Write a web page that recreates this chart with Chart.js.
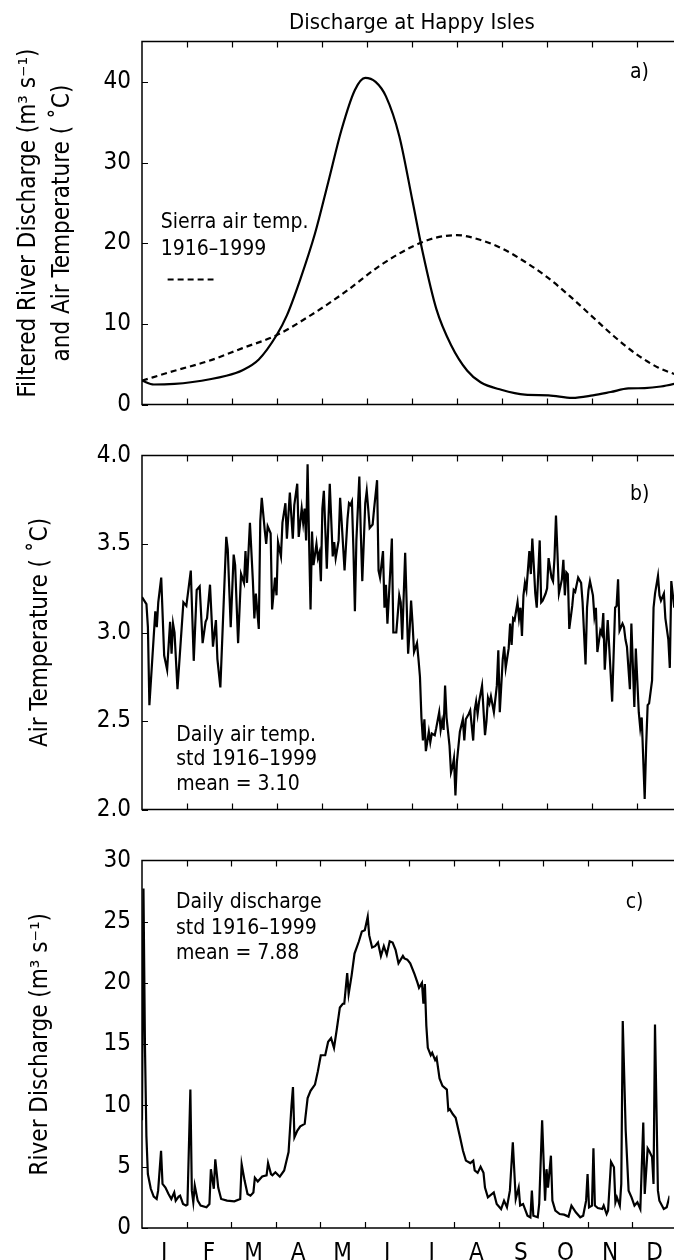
<!DOCTYPE html>
<html>
<head>
<meta charset="utf-8">
<script src="https://cdn.jsdelivr.net/npm/chart.js@4.4.0/dist/chart.umd.min.js"></script>
<style>
  html, body { margin: 0; padding: 0; background: #fff; overflow: hidden; }
  body { width: 674px; height: 1260px; position: relative; }
  canvas { position: absolute; left: 0; }
</style>
</head>
<body>
<canvas id="panelA" width="674" height="430" style="top:0px"></canvas>
<canvas id="panelB" width="674" height="405" style="top:430px"></canvas>
<canvas id="panelC" width="674" height="425" style="top:835px"></canvas>
<script>
const FONT = '"Liberation Sans Narrow", "Arial Narrow", "DejaVu Sans Condensed", sans-serif';

// x axis: months, plot is cut off a bit before the end of December
const monthLabels = ['J', 'F', 'M', 'A', 'M', 'J', 'J', 'A', 'S', 'O', 'N', 'D'];
const monthBounds = [1, 2, 3, 4, 5, 6, 7, 8, 9, 10, 11];
const monthCenters = [0.5, 1.5, 2.5, 3.5, 4.5, 5.5, 6.5, 7.5, 8.5, 9.5, 10.5, 11.5];
const visibleMonths = 11.83;
const daysPerMonth = 365 / 12;

const ticksA = [0, 10, 20, 30, 40];
const ticksB = [2.0, 2.5, 3.0, 3.5, 4.0];
const ticksC = [0, 5, 10, 15, 20, 25, 30];

// panel a: [day of year, value]
const filteredFlow = [
  [0, 2.97], [8, 2.49], [22, 2.57], [33, 2.77], [57, 3.58], [68, 4.27], [79, 5.6], [91, 8.6],
  [98, 11.06], [107, 15.5], [117, 21.2], [126, 27.6], [135, 34.1], [144, 39.0], [151, 40.5],
  [158, 40.0], [165, 38.2], [174, 33.3], [183, 25.2], [190, 18.75], [199, 11.9], [209, 7.4],
  [220, 4.2], [229, 2.77], [243, 1.84], [259, 1.23], [275, 1.15], [291, 0.83], [305, 1.15],
  [317, 1.56], [329, 2.0], [340, 2.04], [351, 2.24], [360, 2.57], [365, 2.8]
];
const sierraTemp = [
  [0, 2.97], [22, 4.19], [45, 5.4], [68, 7.0], [91, 8.6], [114, 11.06], [137, 13.9], [160, 17.1],
  [183, 19.6], [199, 20.7], [213, 21.0], [229, 20.4], [244, 19.3], [259, 17.7], [274, 15.8],
  [289, 13.5], [304, 11.0], [319, 8.5], [334, 6.3], [349, 4.6], [360, 3.8], [365, 3.5]
];

// panel b: daily air temperature std
const dailyTempStd = [
  [0, 3.20], [3, 3.16], [4, 3.03], [5, 2.59], [9, 3.12], [10, 3.03], [11, 3.17], [13, 3.31], [15, 2.87], [17, 2.79],
  [19, 3.06], [20, 2.88], [21, 3.05], [22, 3.00], [24, 2.68], [28, 3.17], [30, 3.15], [33, 3.35], [35, 2.84], [37, 3.24],
  [39, 3.26], [41, 2.94], [43, 3.06], [44, 3.08], [46, 3.27], [48, 2.92], [50, 3.07], [51, 2.85], [53, 2.69], [57, 3.54],
  [58, 3.47], [60, 3.03], [62, 3.44], [63, 3.38], [65, 2.94], [67, 3.33], [69, 3.28], [70, 3.46], [71, 3.28], [73, 3.62],
  [75, 3.29], [76, 3.08], [77, 3.22], [79, 3.02], [80, 3.63], [81, 3.76], [83, 3.58], [84, 3.50], [85, 3.60], [87, 3.56],
  [88, 3.13], [90, 3.31], [91, 3.21], [92, 3.51], [94, 3.43], [95, 3.62], [97, 3.73], [98, 3.53], [100, 3.79], [101, 3.66],
  [102, 3.53], [103, 3.72], [105, 3.84], [106, 3.54], [108, 3.70], [109, 3.62], [110, 3.70], [111, 3.52], [112, 3.95], [113, 3.52],
  [114, 3.13], [115, 3.57], [116, 3.38], [118, 3.50], [119, 3.42], [120, 3.45], [121, 3.29], [122, 3.70], [123, 3.80], [125, 3.36],
  [126, 3.61], [127, 3.84], [129, 3.43], [130, 3.51], [131, 3.42], [133, 3.52], [134, 3.76], [135, 3.63], [137, 3.35], [139, 3.64],
  [140, 3.73], [141, 3.72], [142, 3.74], [143, 3.47], [144, 3.12], [145, 3.52], [147, 3.88], [148, 3.56], [149, 3.29], [151, 3.73],
  [152, 3.80], [153, 3.70], [154, 3.59], [156, 3.61], [157, 3.70], [159, 3.86], [160, 3.35], [161, 3.31], [163, 3.46], [164, 3.14],
  [165, 3.27], [166, 3.05], [168, 3.36], [169, 3.53], [170, 3.00], [172, 3.00], [174, 3.21], [175, 3.17], [176, 2.96], [178, 3.45],
  [180, 2.88], [181, 3.01], [182, 3.18], [183, 3.05], [184, 2.89], [186, 2.94], [187, 2.85], [188, 2.75], [189, 2.52], [190, 2.39],
  [191, 2.51], [192, 2.33], [194, 2.44], [195, 2.38], [196, 2.43], [198, 2.42], [199, 2.46], [201, 2.55], [202, 2.45], [203, 2.50],
  [204, 2.45], [205, 2.70], [206, 2.52], [208, 2.36], [209, 2.21], [210, 2.24], [211, 2.29], [212, 2.08], [213, 2.27], [215, 2.44],
  [217, 2.51], [218, 2.39], [219, 2.51], [221, 2.54], [222, 2.56], [224, 2.39], [225, 2.56], [226, 2.61], [227, 2.54], [228, 2.61],
  [230, 2.70], [232, 2.42], [233, 2.50], [234, 2.63], [235, 2.60], [236, 2.64], [238, 2.55], [240, 2.70], [241, 2.90], [242, 2.55],
  [244, 2.85], [245, 2.92], [246, 2.80], [248, 2.91], [249, 3.05], [250, 2.93], [251, 3.08], [252, 3.07], [254, 3.17], [255, 3.08],
  [256, 3.14], [257, 2.98], [258, 3.21], [259, 3.28], [260, 3.24], [262, 3.46], [263, 3.33], [264, 3.53], [265, 3.38], [266, 3.22],
  [267, 3.14], [269, 3.52], [270, 3.17], [271, 3.18], [273, 3.22], [274, 3.25], [275, 3.42], [277, 3.31], [278, 3.29], [279, 3.42],
  [280, 3.66], [281, 3.45], [282, 3.22], [284, 3.30], [285, 3.41], [286, 3.21], [287, 3.34], [288, 3.33], [289, 3.02], [291, 3.15],
  [292, 3.24], [293, 3.23], [295, 3.31], [297, 3.28], [298, 3.17], [300, 2.82], [301, 3.14], [302, 3.24], [303, 3.29], [305, 3.21],
  [306, 3.09], [307, 3.14], [308, 2.89], [310, 3.01], [311, 2.99], [312, 3.11], [313, 2.79], [315, 3.07], [316, 2.92], [318, 2.61],
  [320, 3.14], [321, 3.15], [322, 3.30], [323, 3.01], [325, 3.05], [326, 3.03], [327, 2.96], [328, 2.92], [330, 2.68], [331, 3.05],
  [333, 2.58], [334, 2.91], [336, 2.55], [337, 2.46], [338, 2.52], [340, 2.06], [341, 2.36], [342, 2.59], [343, 2.60], [345, 2.73],
  [346, 3.14], [347, 3.22], [349, 3.32], [350, 3.21], [351, 3.18], [353, 3.22], [354, 3.08], [356, 2.96], [357, 2.80], [358, 3.29],
  [360, 3.14], [362, 3.10], [364, 3.20]
];

// panel c: daily discharge std
const dailyFlowStd = [
  [0, 8.8], [1, 27.7], [2, 15], [3, 7.5], [4, 4.4], [6, 3.2], [8, 2.56], [10, 2.37], [11, 3.05], [13, 6.3],
  [14, 3.6], [16, 3.3], [18, 2.8], [20, 2.37], [22, 2.9], [23, 2.23], [25, 2.56], [26, 2.64], [28, 1.96], [30, 1.83],
  [31, 1.9], [33, 11.3], [34, 3.05], [35, 2.1], [36, 3.46], [38, 2.23], [40, 1.83], [44, 1.69], [46, 1.96], [47, 4.8],
  [49, 3.2], [50, 5.6], [52, 3.3], [54, 2.37], [58, 2.23], [63, 2.18], [67, 2.37], [68, 5.2], [70, 3.87], [72, 2.78],
  [74, 2.64], [76, 2.9], [77, 4.1], [79, 3.8], [82, 4.2], [85, 4.3], [86, 5.3], [88, 4.4], [89, 4.3], [91, 4.55],
  [93, 4.3], [94, 4.2], [97, 4.7], [100, 6.2], [102, 10], [103, 11.5], [104, 7.4], [106, 7.95], [108, 8.3], [111, 8.5],
  [113, 10.6], [115, 11.2], [118, 11.7], [120, 12.8], [122, 14.1], [125, 14.1], [127, 15.2], [129, 15.5], [131, 14.7], [133, 16.3],
  [135, 18.0], [137, 18.3], [138, 18.3], [140, 20.8], [141, 19.1], [143, 20.6], [145, 22.4], [148, 23.4], [150, 24.2], [152, 24.3],
  [154, 25.4], [155, 23.9], [157, 22.9], [159, 23.0], [161, 23.3], [163, 22.2], [165, 23.0], [167, 22.3], [169, 23.4], [171, 23.3],
  [173, 22.7], [175, 21.6], [178, 22.2], [179, 22.0], [181, 21.9], [183, 21.6], [186, 20.7], [188, 20.0], [189, 19.6], [191, 20.0],
  [192, 18.3], [193, 19.9], [194, 16.5], [195, 14.7], [197, 14.1], [198, 14.3], [200, 13.7], [201, 13.9], [203, 12.2], [205, 11.6],
  [208, 11.3], [209, 9.6], [210, 9.7], [212, 9.3], [214, 9.0], [217, 7.4], [219, 6.3], [221, 5.5], [224, 5.3], [226, 5.5],
  [227, 4.7], [229, 4.5], [231, 5.0], [233, 4.5], [234, 3.3], [236, 2.5], [240, 2.9], [242, 1.96], [245, 1.55], [247, 2.23],
  [249, 1.69], [251, 3.05], [253, 7.0], [255, 2.37], [257, 3.3], [258, 1.83], [260, 1.96], [263, 1.0], [265, 0.87], [266, 3.05],
  [267, 1.0], [270, 0.87], [271, 1.96], [273, 8.8], [275, 2.23], [276, 4.8], [277, 3.3], [279, 5.9], [280, 2.23], [282, 1.42],
  [285, 1.14], [288, 1.09], [291, 0.93], [293, 1.83], [296, 1.28], [299, 0.87], [301, 1.0], [303, 2.23], [304, 4.4], [305, 1.69],
  [307, 1.83], [308, 6.5], [309, 1.83], [311, 1.63], [314, 1.55], [315, 1.83], [317, 1.14], [318, 1.42], [320, 5.4], [322, 4.96],
  [323, 2.1], [324, 2.5], [326, 1.83], [327, 3.6], [328, 16.9], [330, 8.0], [332, 3.05], [334, 2.5], [336, 1.83], [338, 2.1],
  [340, 1.55], [342, 8.6], [343, 2.78], [345, 6.5], [346, 6.3], [348, 5.8], [349, 3.6], [350, 16.6], [352, 3.05], [353, 2.23],
  [356, 1.55], [358, 1.69], [360, 2.64], [362, 3.0], [364, 3.2]
];

Chart.defaults.font.family = FONT;
Chart.defaults.color = '#000';

const plotLeft = 142;

function toPoints(rows) {
  return rows.map(r => ({x: r[0] / daysPerMonth, y: r[1]}));
}

// box on three sides plus inward ticks, MATLAB style
const frameTicks = {
  id: 'frameTicks',
  afterDatasetsDraw(chart) {
    const {ctx, chartArea: a, scales: {x, y}} = chart;
    ctx.save();
    ctx.strokeStyle = '#000';
    ctx.lineWidth = 1.5;
    ctx.beginPath();
    ctx.moveTo(a.right + 10, a.top);
    ctx.lineTo(a.left, a.top);
    ctx.lineTo(a.left, a.bottom);
    ctx.lineTo(a.right + 10, a.bottom);
    ctx.stroke();
    ctx.lineWidth = 1.2;
    ctx.beginPath();
    monthBounds.forEach(m => {
      const px = Math.round(x.getPixelForValue(m)) + 0.5;
      ctx.moveTo(px, a.top);
      ctx.lineTo(px, a.top + 6);
      ctx.moveTo(px, a.bottom);
      ctx.lineTo(px, a.bottom - 6);
    });
    y.ticks.forEach(t => {
      const py = Math.round(y.getPixelForValue(t.value)) + 0.5;
      ctx.moveTo(a.left, py);
      ctx.lineTo(a.left + 6, py);
    });
    ctx.stroke();
    ctx.restore();
  }
};

// text placed in data coordinates
function notes(texts, extra) {
  return {
    id: 'notes',
    afterDraw(chart) {
      const {ctx, scales: {x, y}} = chart;
      ctx.save();
      ctx.fillStyle = '#000';
      ctx.strokeStyle = '#000';
      ctx.font = '21px ' + FONT;
      ctx.textBaseline = 'middle';
      ctx.textAlign = 'left';
      texts.forEach(t => {
        ctx.fillText(t.text, x.getPixelForValue(t.at[0]), y.getPixelForValue(t.at[1]));
      });
      if (extra) extra(chart, ctx, x, y);
      ctx.restore();
    }
  };
}

function yAxis(min, max, tickList, title, titlePad, fmt) {
  return {
    type: 'linear', min: min, max: max,
    afterBuildTicks: s => { s.ticks = tickList.map(v => ({value: v})); },
    afterFit: s => { s.width = plotLeft; },
    grid: {display: false, drawTicks: false},
    border: {display: false},
    ticks: {padding: 11, font: {size: 24}, callback: fmt || (v => String(v))},
    title: {display: true, text: title, font: {size: 24, lineHeight: 1.4}, padding: {top: titlePad, bottom: 0}}
  };
}

function lineSet(rows, extra) {
  return Object.assign({
    data: toPoints(rows),
    borderColor: '#000',
    borderWidth: 2.2,
    pointRadius: 0,
    fill: false,
    tension: 0
  }, extra || {});
}

const baseOptions = {
  responsive: false,
  animation: false,
  events: [],
  plugins: {legend: {display: false}, tooltip: {enabled: false}, title: {display: false}}
};

// a) filtered discharge and Sierra air temperature
new Chart(document.getElementById('panelA'), {
  type: 'line',
  data: {
    datasets: [
      lineSet(filteredFlow, {cubicInterpolationMode: 'monotone'}),
      lineSet(sierraTemp, {cubicInterpolationMode: 'monotone', borderDash: [6, 4]})
    ]
  },
  options: Object.assign({}, baseOptions, {
    layout: {padding: {top: 41.5, bottom: 17.5, left: 0, right: 0}},
    scales: {
      x: {type: 'linear', min: 0, max: visibleMonths, display: false},
      y: yAxis(0, 45, ticksA, ['Filtered River Discharge (m\u00B3 s\u207B\u00B9)', 'and Air Temperature ( \u02DAC)'], 12)
    }
  }),
  plugins: [frameTicks, notes([
    {text: 'a)', at: [10.85, 41.2]},
    {text: 'Sierra air temp.', at: [0.417, 22.6]},
    {text: '1916\u20131999', at: [0.417, 19.2]}
  ], (chart, ctx, x, y) => {
    ctx.lineWidth = 2;
    ctx.setLineDash([6, 4]);
    ctx.beginPath();
    ctx.moveTo(x.getPixelForValue(0.57), y.getPixelForValue(15.5));
    ctx.lineTo(x.getPixelForValue(1.59), y.getPixelForValue(15.5));
    ctx.stroke();
    ctx.setLineDash([]);
    ctx.font = '22px ' + FONT;
    ctx.textAlign = 'center';
    const mid = (x.getPixelForValue(0) + x.getPixelForValue(12)) / 2;
    ctx.fillText('Discharge at Happy Isles', mid, 23);
  })]
});

// b) daily air temperature standard deviation
new Chart(document.getElementById('panelB'), {
  type: 'line',
  data: {datasets: [lineSet(dailyTempStd)]},
  options: Object.assign({}, baseOptions, {
    layout: {padding: {top: 16, bottom: 18, left: 0, right: 0}},
    scales: {
      x: {type: 'linear', min: 0, max: visibleMonths, display: false},
      y: yAxis(2, 4, ticksB, 'Air Temperature ( \u02DAC)', 24, v => v.toFixed(1))
    }
  }),
  plugins: [frameTicks, notes([
    {text: 'b)', at: [10.85, 3.78]},
    {text: 'Daily air temp.', at: [0.76, 2.42]},
    {text: 'std 1916\u20131999', at: [0.76, 2.28]},
    {text: 'mean = 3.10', at: [0.76, 2.14]}
  ])]
});

// c) daily discharge standard deviation
new Chart(document.getElementById('panelC'), {
  type: 'line',
  data: {datasets: [lineSet(dailyFlowStd)]},
  options: Object.assign({}, baseOptions, {
    layout: {padding: {top: 21, bottom: 0, left: 0, right: 0}},
    scales: {
      x: {
        type: 'linear', min: 0, max: visibleMonths,
        afterBuildTicks: s => { s.ticks = monthCenters.map(v => ({value: v})); },
        afterFit: s => { s.height = 32; },
        grid: {display: false, drawTicks: false},
        border: {display: false},
        ticks: {autoSkip: false, maxRotation: 0, padding: 11, font: {size: 24}, callback: (v, i) => monthLabels[i]}
      },
      y: yAxis(0, 30, ticksC, 'River Discharge (m\u00B3 s\u207B\u00B9)', 24)
    }
  }),
  plugins: [frameTicks, notes([
    {text: 'c)', at: [10.85, 26.6]},
    {text: 'Daily discharge', at: [0.76, 26.6]},
    {text: 'std 1916\u20131999', at: [0.76, 24.45]},
    {text: 'mean = 7.88', at: [0.76, 22.4]}
  ])]
});
</script>
</body>
</html>
